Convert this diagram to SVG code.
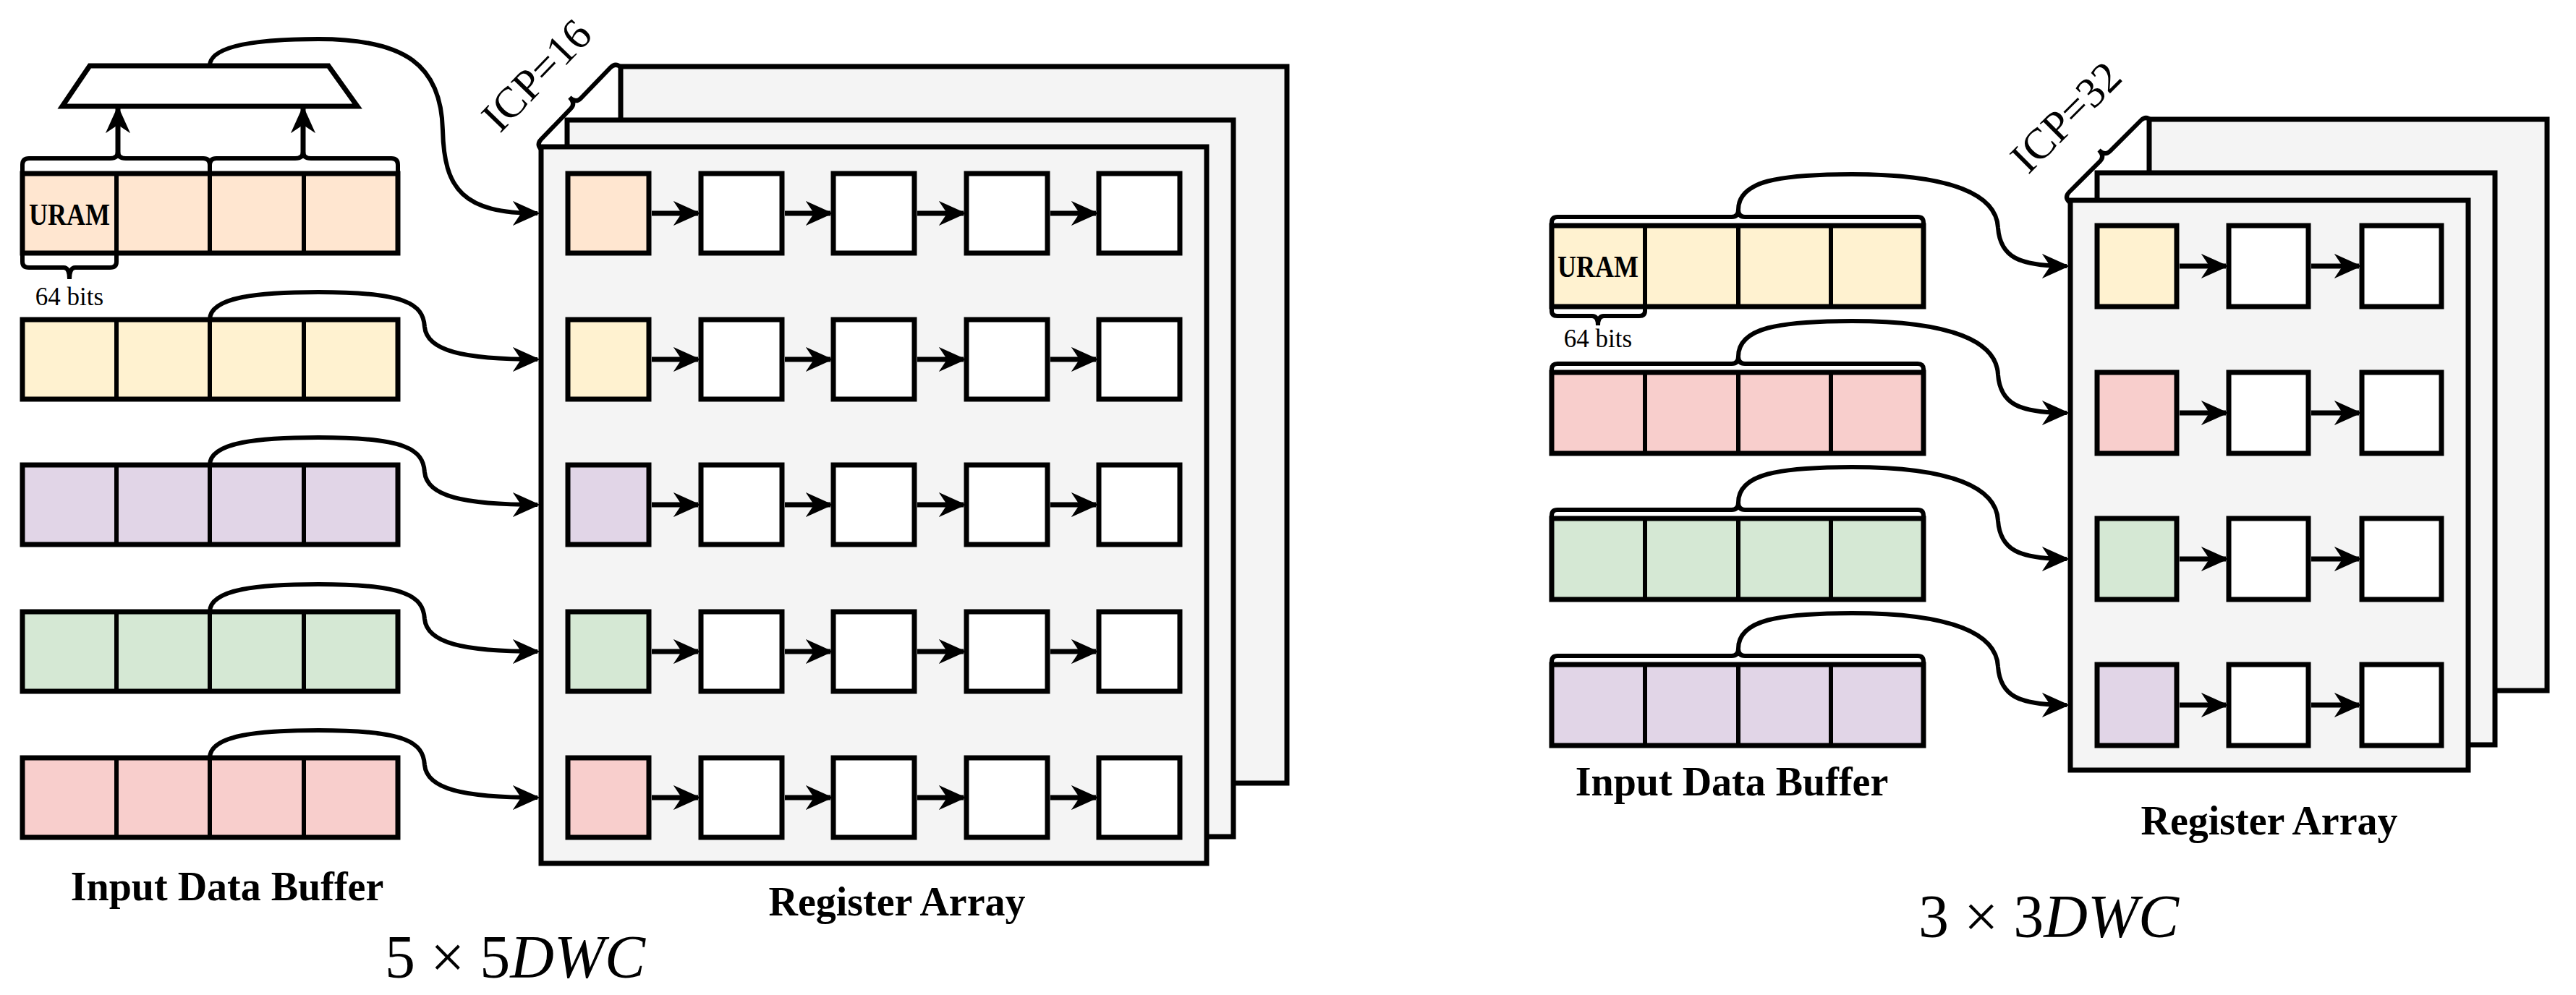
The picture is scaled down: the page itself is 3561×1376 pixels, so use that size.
<svg xmlns="http://www.w3.org/2000/svg" width="3561" height="1376" viewBox="0 0 3561 1376">
<style>
.b{stroke:#000;stroke-width:7;}
.ln{fill:none;stroke:#000;stroke-width:6;}
.cv{fill:none;stroke:#000;stroke-width:6;marker-end:url(#ah);}
.ar{fill:none;stroke:#000;stroke-width:7;marker-end:url(#ah);}
.pl{fill:#f4f4f4;stroke:#000;stroke-width:7;}
.w{fill:#fff;}
.o{fill:#ffe6d0;}.y{fill:#fff2d0;}.p{fill:#e1d5e7;}.g{fill:#d5e8d4;}.r{fill:#f8cecc;}
text{font-family:"Liberation Serif","Times New Roman",serif;fill:#000;}
.lb{font-size:56px;font-weight:bold;text-anchor:middle;}
.sm{font-size:42px;font-weight:bold;text-anchor:middle;}
.bt{font-size:35px;text-anchor:middle;}
.ic{font-size:60px;text-anchor:middle;}
.mt{font-size:84px;text-anchor:middle;}
</style>
<defs>
<marker id="ah" viewBox="0 0 20 20" refX="18" refY="10" markerWidth="38" markerHeight="38" markerUnits="userSpaceOnUse" orient="auto"><path d="M0,1 L20,10 L0,19 L6,10 z" fill="#000"/></marker>
</defs>
<rect width="3561" height="1376" fill="#fff"/>

<!-- LEFT: 5x5 -->
<g id="left-register-array">
<rect class="pl" x="858" y="92" width="921" height="991"/>
<rect class="pl" x="784" y="166" width="921" height="991"/>
<rect class="pl" x="748" y="203" width="920" height="991"/>
</g>
<g id="left-cells">
<rect class="b o" x="785" y="240" width="112" height="110"/><rect class="b w" x="969" y="240" width="112" height="110"/><rect class="b w" x="1152" y="240" width="112" height="110"/><rect class="b w" x="1336" y="240" width="112" height="110"/><rect class="b w" x="1519" y="240" width="112" height="110"/>
<rect class="b y" x="785" y="442" width="112" height="110"/><rect class="b w" x="969" y="442" width="112" height="110"/><rect class="b w" x="1152" y="442" width="112" height="110"/><rect class="b w" x="1336" y="442" width="112" height="110"/><rect class="b w" x="1519" y="442" width="112" height="110"/>
<rect class="b p" x="785" y="643" width="112" height="110"/><rect class="b w" x="969" y="643" width="112" height="110"/><rect class="b w" x="1152" y="643" width="112" height="110"/><rect class="b w" x="1336" y="643" width="112" height="110"/><rect class="b w" x="1519" y="643" width="112" height="110"/>
<rect class="b g" x="785" y="846" width="112" height="110"/><rect class="b w" x="969" y="846" width="112" height="110"/><rect class="b w" x="1152" y="846" width="112" height="110"/><rect class="b w" x="1336" y="846" width="112" height="110"/><rect class="b w" x="1519" y="846" width="112" height="110"/>
<rect class="b r" x="785" y="1048" width="112" height="110"/><rect class="b w" x="969" y="1048" width="112" height="110"/><rect class="b w" x="1152" y="1048" width="112" height="110"/><rect class="b w" x="1336" y="1048" width="112" height="110"/><rect class="b w" x="1519" y="1048" width="112" height="110"/>
</g>
<g id="left-buffer">
<g id="lb1"><rect class="b o" x="31" y="240" width="519" height="110"/><path class="ln" d="M161,240V350M290,240V350M420,240V350"/></g>
<g id="lb2"><rect class="b y" x="31" y="442" width="519" height="110"/><path class="ln" d="M161,442V552M290,442V552M420,442V552"/></g>
<g id="lb3"><rect class="b p" x="31" y="643" width="519" height="110"/><path class="ln" d="M161,643V753M290,643V753M420,643V753"/></g>
<g id="lb4"><rect class="b g" x="31" y="846" width="519" height="110"/><path class="ln" d="M161,846V956M290,846V956M420,846V956"/></g>
<g id="lb5"><rect class="b r" x="31" y="1048" width="519" height="110"/><path class="ln" d="M161,1048V1158M290,1048V1158M420,1048V1158"/></g>
<text class="sm" x="96" y="311" textLength="112" lengthAdjust="spacingAndGlyphs">URAM</text>
<path class="ln" d="M31,240V228Q31,219 40,219H152Q163,219 163,210Q163,219 174,219H281Q290,219 290,228V240M290,228Q290,219 299,219H408Q419,219 419,210Q419,219 430,219H541Q550,219 550,228V240"/>
<path class="ln" d="M31,350V362Q31,370 40,370H88Q96,370 96,386Q96,370 104,370H152Q161,370 161,362V350"/>
<text class="bt" x="96" y="422">64 bits</text>
</g>
<g id="mux"><polygon class="b w" points="124,91 454,91 494,147 86,147"/></g>
<g id="left-icp">
<g transform="translate(796,143) rotate(-46)"><path class="ln" d="M-79,10Q-79,0 -69,0H-10Q0,0 0,-12Q0,0 10,0H69Q79,0 79,10"/></g>
<text class="ic" transform="translate(756,118) rotate(-46)">ICP=16</text>
</g>
<g id="left-labels">
<text class="lb" x="314" y="1245">Input Data Buffer</text>
<text class="lb" x="1240" y="1266">Register Array</text>
<text class="mt" x="712" y="1352">5 × 5<tspan font-style="italic">DWC</tspan></text>
</g>

<!-- RIGHT: 3x3 -->
<g id="right-register-array">
<rect class="pl" x="2971" y="165" width="550" height="790"/>
<rect class="pl" x="2899" y="239" width="550" height="791"/>
<rect class="pl" x="2862" y="277" width="550" height="788"/>
</g>
<g id="right-cells">
<rect class="b y" x="2899" y="312" width="110" height="112"/><rect class="b w" x="3081" y="312" width="110" height="112"/><rect class="b w" x="3265" y="312" width="110" height="112"/>
<rect class="b r" x="2899" y="515" width="110" height="112"/><rect class="b w" x="3081" y="515" width="110" height="112"/><rect class="b w" x="3265" y="515" width="110" height="112"/>
<rect class="b g" x="2899" y="717" width="110" height="112"/><rect class="b w" x="3081" y="717" width="110" height="112"/><rect class="b w" x="3265" y="717" width="110" height="112"/>
<rect class="b p" x="2899" y="919" width="110" height="112"/><rect class="b w" x="3081" y="919" width="110" height="112"/><rect class="b w" x="3265" y="919" width="110" height="112"/>
</g>
<g id="right-buffer">
<g id="rb1"><rect class="b y" x="2145" y="312" width="514" height="112"/><path class="ln" d="M2274,312V424M2403,312V424M2531,312V424"/><path class="ln" d="M2145,312V308Q2145,300 2153,300H2394Q2403,300 2403,290Q2403,300 2412,300H2651Q2659,300 2659,308V312"/></g>
<g id="rb2"><rect class="b r" x="2145" y="515" width="514" height="112"/><path class="ln" d="M2274,515V627M2403,515V627M2531,515V627"/><path class="ln" d="M2145,515V511Q2145,503 2153,503H2394Q2403,503 2403,493Q2403,503 2412,503H2651Q2659,503 2659,511V515"/></g>
<g id="rb3"><rect class="b g" x="2145" y="717" width="514" height="112"/><path class="ln" d="M2274,717V829M2403,717V829M2531,717V829"/><path class="ln" d="M2145,717V713Q2145,705 2153,705H2394Q2403,705 2403,695Q2403,705 2412,705H2651Q2659,705 2659,713V717"/></g>
<g id="rb4"><rect class="b p" x="2145" y="919" width="514" height="112"/><path class="ln" d="M2274,919V1031M2403,919V1031M2531,919V1031"/><path class="ln" d="M2145,919V915Q2145,907 2153,907H2394Q2403,907 2403,897Q2403,907 2412,907H2651Q2659,907 2659,915V919"/></g>
<text class="sm" x="2209" y="383" textLength="112" lengthAdjust="spacingAndGlyphs">URAM</text>
<path class="ln" d="M2145,424V430Q2145,437 2153,437H2201Q2209,437 2209,450Q2209,437 2217,437H2266Q2274,437 2274,430V424"/>
<text class="bt" x="2209" y="480">64 bits</text>
</g>
<g id="right-icp">
<g transform="translate(2910,216) rotate(-45)"><path class="ln" d="M-80,10Q-80,0 -70,0H-10Q0,0 0,-12Q0,0 10,0H70Q80,0 80,10"/></g>
<text class="ic" transform="translate(2870,176) rotate(-45)">ICP=32</text>
</g>
<g id="right-labels">
<text class="lb" x="2394" y="1100">Input Data Buffer</text>
<text class="lb" x="3137" y="1154">Register Array</text>
<text class="mt" x="2832" y="1296">3 × 3<tspan font-style="italic">DWC</tspan></text>
</g>

<g id="connectors">
<path class="ar" d="M163,219V150"/><path class="ar" d="M419,219V150"/>
<path class="cv" d="M290,91C290,62 360,54 440,54C560,54 610,90 612,180C614,262 640,295 743,295"/>
<path class="cv" d="M290,442C290,410 360,404 440,404C560,404 585,420 587,452C590,485 640,497 743,497"/>
<path class="cv" d="M290,643C290,611 360,605 440,605C560,605 585,621 587,653C590,686 640,698 743,698"/>
<path class="cv" d="M290,846C290,814 360,808 440,808C560,808 585,824 587,856C590,889 640,901 743,901"/>
<path class="cv" d="M290,1048C290,1016 360,1010 440,1010C560,1010 585,1026 587,1058C590,1091 640,1103 743,1103"/>
<path class="ar" d="M901,295H965"/><path class="ar" d="M1085,295H1148"/><path class="ar" d="M1268,295H1332"/><path class="ar" d="M1452,295H1515"/>
<path class="ar" d="M901,497H965"/><path class="ar" d="M1085,497H1148"/><path class="ar" d="M1268,497H1332"/><path class="ar" d="M1452,497H1515"/>
<path class="ar" d="M901,698H965"/><path class="ar" d="M1085,698H1148"/><path class="ar" d="M1268,698H1332"/><path class="ar" d="M1452,698H1515"/>
<path class="ar" d="M901,901H965"/><path class="ar" d="M1085,901H1148"/><path class="ar" d="M1268,901H1332"/><path class="ar" d="M1452,901H1515"/>
<path class="ar" d="M901,1103H965"/><path class="ar" d="M1085,1103H1148"/><path class="ar" d="M1268,1103H1332"/><path class="ar" d="M1452,1103H1515"/>
<path class="cv" d="M2403,290C2403,250 2460,241 2560,241C2700,241 2760,270 2762,315C2765,355 2790,368 2857,368"/>
<path class="cv" d="M2403,493C2403,453 2460,444 2560,444C2700,444 2760,473 2762,518C2765,558 2790,571 2857,571"/>
<path class="cv" d="M2403,695C2403,655 2460,646 2560,646C2700,646 2760,675 2762,720C2765,760 2790,773 2857,773"/>
<path class="cv" d="M2403,897C2403,857 2460,848 2560,848C2700,848 2760,877 2762,922C2765,962 2790,975 2857,975"/>
<path class="ar" d="M3013,368H3077"/><path class="ar" d="M3195,368H3261"/>
<path class="ar" d="M3013,571H3077"/><path class="ar" d="M3195,571H3261"/>
<path class="ar" d="M3013,773H3077"/><path class="ar" d="M3195,773H3261"/>
<path class="ar" d="M3013,975H3077"/><path class="ar" d="M3195,975H3261"/>
</g>
</svg>
